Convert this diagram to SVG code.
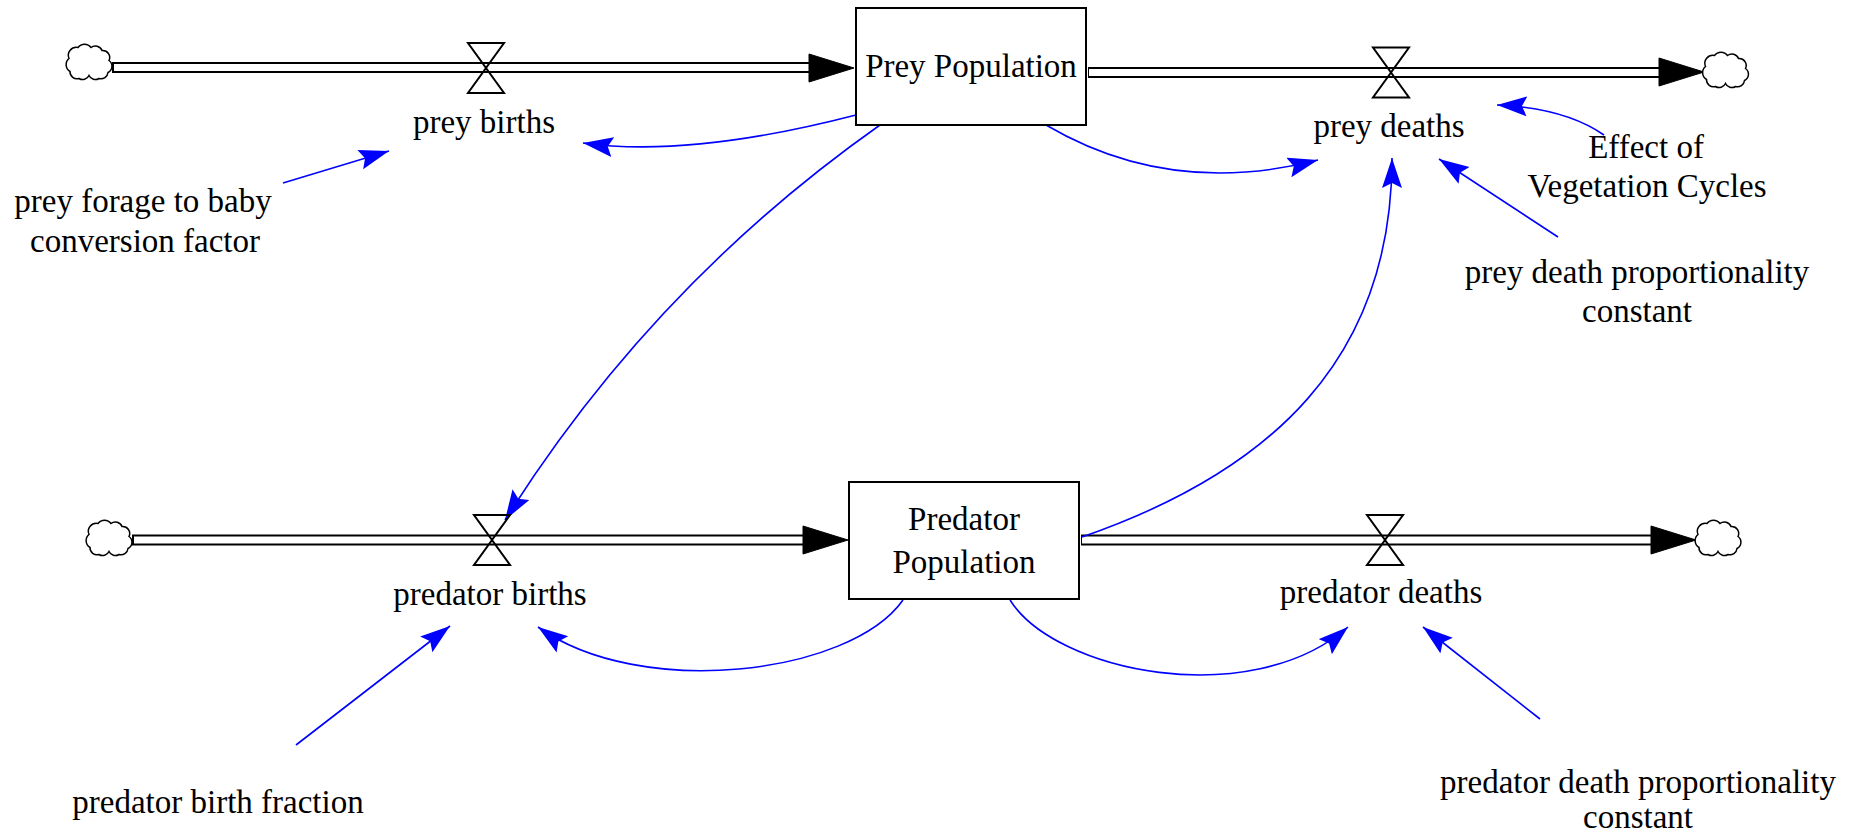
<svg xmlns="http://www.w3.org/2000/svg" width="1851" height="836" viewBox="0 0 1851 836">
<style>
  text { font-family: "Liberation Serif", "Times New Roman", serif; font-size: 33px; fill: #000; text-anchor: middle; }
  .box { fill: #fff; stroke: #000; stroke-width: 2; }
  .pipeOuter { stroke: #000; stroke-width: 11; fill: none; }
  .pipeInner { stroke: #fff; stroke-width: 7; fill: none; }
  .valve { fill: none; stroke: #000; stroke-width: 2; stroke-linejoin: miter; }
  .cloud { fill: #fff; stroke: #000; stroke-width: 1.5; }
  .link { fill: none; stroke: #0000ff; stroke-width: 1.6; marker-end: url(#blueArrow); }
  .flowhead { fill: #000; stroke: #000; stroke-width: 1; }
</style>
<defs>
  <marker id="blueArrow" markerUnits="userSpaceOnUse" markerWidth="32" markerHeight="22" refX="30" refY="10" orient="auto">
    <path d="M0,0 L30,10 L0,20 L5,10 Z" fill="#0000ff"/>
  </marker>
  <path id="flowArrowHead" d="M-45,-14 L0,0 L-45,14 Z"/>
  <path id="cloudShape" d="M-20,-4 A8,8 0 0 1 -11,-15 A8,8 0 0 1 2,-15 A7,7 0 0 1 13,-12 A7,7 0 0 1 20,-2 A7,7 0 0 1 19,10 A7,7 0 0 1 10,16 A7,7 0 0 1 0,13 A7,7 0 0 1 -10,16 A7,7 0 0 1 -19,9 A8,8 0 0 1 -20,-4 Z"/>
  <path id="valveShape" d="M-18,-25 L18,-25 L0,0 L18,25 L-18,25 L0,0 Z"/>
</defs>
<rect width="1851" height="836" fill="#fff"/>

<g id="connectors">
  <!-- flow pipes -->
  <g id="flow-prey-births">
    <line class="pipeOuter" x1="112" y1="67.5" x2="812" y2="67.5"/>
    <line class="pipeInner" x1="114" y1="67.5" x2="812" y2="67.5"/>
    <use href="#flowArrowHead" class="flowhead" x="854" y="68"/>
  </g>
  <g id="flow-prey-deaths">
    <line class="pipeOuter" x1="1088" y1="72.5" x2="1660" y2="72.5"/>
    <line class="pipeInner" x1="1089" y1="72.5" x2="1660" y2="72.5"/>
    <use href="#flowArrowHead" class="flowhead" x="1704" y="72"/>
  </g>
  <g id="flow-predator-births">
    <line class="pipeOuter" x1="132" y1="540" x2="806" y2="540"/>
    <line class="pipeInner" x1="134" y1="540" x2="806" y2="540"/>
    <use href="#flowArrowHead" class="flowhead" x="848" y="540"/>
  </g>
  <g id="flow-predator-deaths">
    <line class="pipeOuter" x1="1081" y1="540" x2="1653" y2="540"/>
    <line class="pipeInner" x1="1082" y1="540" x2="1653" y2="540"/>
    <use href="#flowArrowHead" class="flowhead" x="1696" y="540"/>
  </g>
  <!-- information links -->
  <path class="link" d="M856,115 Q690,158 583,143"/>
  <path class="link" d="M283,183 L389,151"/>
  <path class="link" d="M880,125 Q653,285 505,520"/>
  <path class="link" d="M1046,125 Q1170,198 1318,160"/>
  <path class="link" d="M1082,537 C1270,472 1392,360 1392,158"/>
  <path class="link" d="M1604,135 Q1565,108 1497,105"/>
  <path class="link" d="M1558,237 L1439,159"/>
  <path class="link" d="M903,600 C850,675 640,700 538,627"/>
  <path class="link" d="M296,745 L450,626"/>
  <path class="link" d="M1010,600 C1055,672 1250,712 1348,627"/>
  <path class="link" d="M1540,719 L1423,627"/>
</g>

<g id="cloud-prey-source"><use href="#cloudShape" class="cloud" x="89" y="62.5"/></g>
<g id="cloud-prey-sink"><use href="#cloudShape" class="cloud" x="1725.5" y="70.5"/></g>
<g id="cloud-predator-source"><use href="#cloudShape" class="cloud" x="109" y="538.5"/></g>
<g id="cloud-predator-sink"><use href="#cloudShape" class="cloud" x="1718" y="538.5"/></g>

<g id="prey-population">
  <rect class="box" x="856" y="8" width="230" height="117"/>
  <text x="971" y="77">Prey Population</text>
</g>
<g id="predator-population">
  <rect class="box" x="849" y="482" width="230" height="117"/>
  <text x="964" y="530">Predator</text>
  <text x="964" y="573">Population</text>
</g>

<g id="prey-births">
  <use href="#valveShape" class="valve" x="486" y="68"/>
  <text x="484" y="133">prey births</text>
</g>
<g id="prey-deaths">
  <use href="#valveShape" class="valve" x="1391" y="72.5"/>
  <text x="1389" y="137">prey deaths</text>
</g>
<g id="predator-births">
  <use href="#valveShape" class="valve" x="492" y="540"/>
  <text x="490" y="605">predator births</text>
</g>
<g id="predator-deaths">
  <use href="#valveShape" class="valve" x="1385" y="540"/>
  <text x="1381" y="603">predator deaths</text>
</g>

<g id="prey-forage-to-baby-conversion-factor">
  <text x="143" y="212">prey forage to baby</text>
  <text x="145" y="252">conversion factor</text>
</g>
<g id="effect-of-vegetation-cycles">
  <text x="1646" y="158">Effect of</text>
  <text x="1647" y="197">Vegetation Cycles</text>
</g>
<g id="prey-death-proportionality-constant">
  <text x="1637" y="283">prey death proportionality</text>
  <text x="1637" y="322">constant</text>
</g>
<g id="predator-birth-fraction">
  <text x="218" y="813">predator birth fraction</text>
</g>
<g id="predator-death-proportionality-constant">
  <text x="1638" y="793">predator death proportionality</text>
  <text x="1638" y="828">constant</text>
</g>
</svg>
